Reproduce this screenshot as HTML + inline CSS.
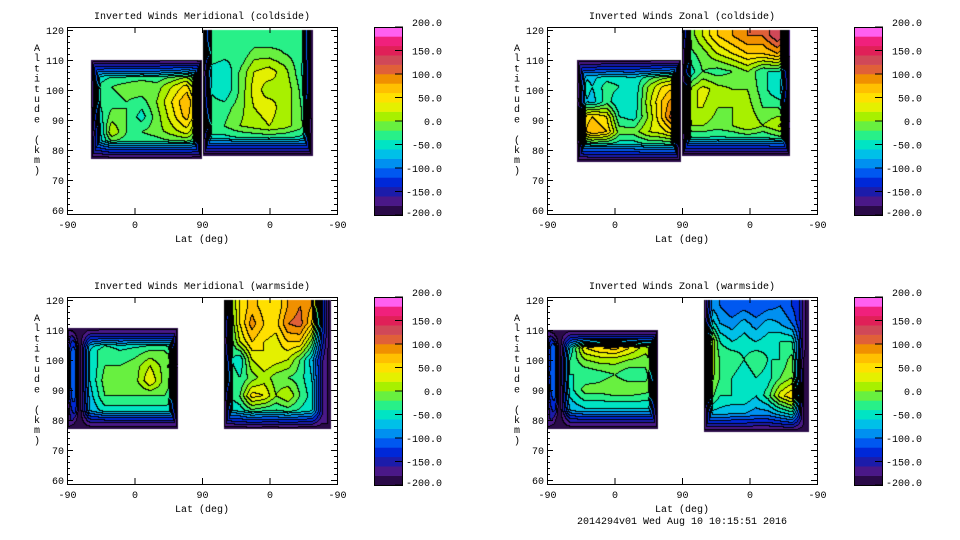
<!DOCTYPE html>
<html><head><meta charset="utf-8">
<style>
html,body{margin:0;padding:0;background:#fff;}
#wrap{position:relative;width:960px;height:540px;overflow:hidden;background:#fff;font-family:"Liberation Mono",monospace;}
canvas{position:absolute;}
svg{position:absolute;left:0;top:0;}
svg text{font-family:"Liberation Mono",monospace;font-size:10px;fill:#000;}
</style></head>
<body>
<div id="wrap">
<canvas id="c1" width="270" height="187" style="left:67px;top:27px"></canvas>
<canvas id="c2" width="270" height="187" style="left:547px;top:27px"></canvas>
<canvas id="c3" width="270" height="187" style="left:67px;top:297px"></canvas>
<canvas id="c4" width="270" height="187" style="left:547px;top:297px"></canvas>
<svg id="ax" width="960" height="540"></svg>
</div>
<script>
// ---- colour scale / ticks ----
const bandColors = ["#2a0a48","#4a1888","#1c1caa","#0028d8","#0058f0","#0090f0","#00c0e8","#00e4c4","#28f088","#68f040","#a8f000","#e4f000","#ffe000","#ffc000","#f09000","#e06038","#d04858","#e02058","#f0207c","#ff60f0"];
const levelTicks = [200,150,100,50,0,-50,-100,-150,-200];
const latTickLabels = ["-90","0","90","0","-90"];
const altTicks = [60,70,80,90,100,110,120];
const titles = ["Inverted Winds Meridional (coldside)","Inverted Winds Zonal (coldside)","Inverted Winds Meridional (warmside)","Inverted Winds Zonal (warmside)"];

// ---- panel 1: meridional coldside ----
const p1LeftLats = [-50,-30,-10,10,30,50,70,87];
const p1LeftAlts = [106,101,96,91,86,81];
const p1LeftVals = [
[-60,-50,-50,-50,-50,-40,-30,-50],
[-40,-20,-10,0,-10,20,50,-20],
[-40,-30,-20,-30,0,40,80,20],
[-60,-10,-20,-50,-10,30,70,10],
[-90,20,-20,-20,-10,10,30,-20],
[-80,-40,-40,-40,-40,-40,-40,-60]];
const p1RightLats = [80,60,40,20,0,-20,-40,-54];
const p1RightAlts = [118,112,106,100,94,88,82];
const p1RightVals = [
[-30,-40,-40,-40,-40,-30,-30,-60],
[-20,-30,-40,-10,-10,-20,-30,-60],
[-50,-60,-20,20,30,10,-30,-70],
[-40,-60,-20,30,10,20,-20,-70],
[-30,-30,-10,20,30,10,-10,-60],
[-20,-20,0,10,20,10,-10,-40],
[-60,-60,-60,-60,-60,-60,-60,-60]];
// ---- panel 2: zonal coldside ----
const p2LeftLats = [-46,-29,-10,7,26,45,63,82];
const p2LeftAlts = [106,101,96,91,86,81];
const p2LeftVals = [
[-70,-70,-60,-60,-60,-50,-40,-30],
[-40,-60,-30,-40,-60,0,40,60],
[-50,-70,-30,-60,-60,10,60,100],
[40,60,40,-40,-50,0,60,130],
[40,80,60,-10,-10,20,30,60],
[-70,-60,-60,-60,-60,-50,-50,-50]];
const p2RightLats = [82,62,42,22,2,-18,-38,-51];
const p2RightAlts = [118,112,106,100,94,88,82];
const p2RightVals = [
[-20,20,60,80,100,100,140,100],
[-30,-10,20,40,60,60,80,40],
[-60,-20,-30,-20,0,-40,-40,-60],
[0,30,10,0,0,-30,-60,-60],
[20,20,0,0,10,-20,-20,-40],
[0,0,-10,0,20,0,20,40],
[-60,-60,-60,-60,-60,-60,-50,-50]];
// ---- panel 3: meridional warmside ----
const p3LeftLats = [-87,-79,-73,-59,-39,-19,1,21,41,55];
const p3LeftAlts = [108,103,98,93,88,83,79];
const p3LeftVals = [
[-90,-150,-200,-90,-80,-80,-80,-80,-80,-80],
[30,-100,-200,-60,-20,-40,-30,-20,-20,-40],
[40,-100,-200,-60,-20,-20,-10,20,-10,30],
[40,-100,-200,-60,-10,-10,-10,40,-10,-20],
[20,-100,-200,-70,-20,-20,-20,-20,-20,-40],
[-60,-120,-200,-80,-50,-50,-50,-50,-50,-50],
[-100,-160,-200,-100,-90,-90,-90,-90,-90,-90]];
const p3RightLats = [55,39,23,7,-9,-25,-41,-57,-70];
const p3RightAlts = [118,112,106,100,94,88,82];
const p3RightVals = [
[-20,40,70,50,40,80,100,80,-100],
[-40,40,90,60,50,100,110,60,-100],
[-50,20,60,40,30,60,60,-10,-120],
[-30,-60,20,40,30,20,-20,-70,-150],
[-20,-40,-10,10,-10,-20,-30,-60,-150],
[-40,-20,50,40,0,20,-20,-50,-150],
[-70,-60,-40,-50,-50,-40,-50,-60,-150]];
// ---- panel 4: zonal warmside ----
const p4LeftLats = [-87,-79,-73,-59,-39,-19,1,21,41,57];
const p4LeftAlts = [108,104,100,95,90,85,80];
const p4LeftVals = [
[-90,-150,-200,-80,-70,-70,-70,-70,-70,-70],
[0,-100,-200,-60,40,60,70,40,10,0],
[10,-100,-200,-40,0,10,10,0,-10,20],
[20,-100,-200,-40,-40,-30,-20,-40,-30,10],
[-10,-100,-200,-50,-10,-10,0,0,-10,-20],
[-60,-120,-200,-70,-50,-50,-50,-50,-50,-50],
[-100,-160,-200,-100,-90,-90,-90,-90,-90,-90]];
const p4RightLats = [55,39,23,7,-9,-25,-41,-57,-73];
const p4RightAlts = [118,112,106,100,94,88,82];
const p4RightVals = [
[-80,-100,-120,-110,-120,-110,-100,-120,-150],
[-30,-80,-90,-70,-90,-70,-80,-100,-150],
[60,-40,-60,-50,-60,-50,-40,-40,-150],
[30,-20,-20,-40,-20,-40,-40,-10,-170],
[20,-20,-40,-60,-40,-50,-20,0,-170],
[0,-40,-40,-40,-60,-30,30,60,-170],
[-70,-70,-80,-80,-90,-90,-70,-50,-170]];
// block extents (data coords): [latA, latB, altMin, altMax]
const p1LeftExt=[-57,90,77,110], p1RightExt=[88,-57,78,120];
const p2LeftExt=[-49,88,76,110], p2RightExt=[89,-54,78,120];
const p3LeftExt=[-89,58,77,110.5], p3RightExt=[60,-81,77,120];
const p4LeftExt=[-90,58,77,110], p4RightExt=[60,-79,76,120];

// ---- axis functions (local to plot box) ----
function xOf(lat, side){ return side==='L' ? (lat+90)*0.75 : 135+(90-lat)*0.75; }
function yOf(alt){ return 3+(120-alt)*3; }
function cbY(v){ return 27+(200-v)*0.47; }

function interp1(arr, p){
  if(p<=arr[0]) return [0,0,0];
  const n=arr.length-1;
  if(p>=arr[n]) return [n,n,0];
  for(let i=0;i<n;i++){ if(p<=arr[i+1]) return [i,i+1,(p-arr[i])/(arr[i+1]-arr[i])]; }
  return [n,n,0];
}
function renderPanel(id, blocks){
  const cv=document.getElementById(id), ctx=cv.getContext('2d');
  const W=270,H=187, band=new Int16Array(W*H).fill(-99);
  const FW=18;
  blocks.forEach(b=>{
    const cx=b.lats.map(l=>xOf(l,b.side)), ry=b.alts.map(a=>yOf(a));
    const xa=xOf(b.ext[0],b.side), xb=xOf(b.ext[1],b.side);
    const x0=Math.min(xa,xb), x1=Math.max(xa,xb), y0=yOf(b.ext[3]), y1=yOf(b.ext[2]);
    const topOpen=b.ext[3]>=120;
    for(let y=Math.max(0,Math.floor(y0));y<Math.min(H,Math.ceil(y1));y++){
      const [r0,r1,ft]=interp1(ry,y+0.5);
      for(let x=Math.max(0,Math.floor(x0));x<Math.min(W,Math.ceil(x1));x++){
        const [c0,c1,fs]=interp1(cx,x+0.5);
        const v00=b.vals[r0][c0],v01=b.vals[r0][c1],v10=b.vals[r1][c0],v11=b.vals[r1][c1];
        let v=(v00*(1-fs)+v01*fs)*(1-ft)+(v10*(1-fs)+v11*fs)*ft;
        const dx=Math.min(x+0.5-x0,x1-x-0.5);
        const dy=Math.min(y1-y-0.5, topOpen?99:y+0.5-y0);
        let d=Math.min(dx*2,dy);
        if(d<FW){ const f=1-Math.max(d,0)/FW; v=v+(-192-v)*f; }
        let k=Math.floor((v+200)/20); if(k>19)k=19; if(k<0)k=0;
        band[y*W+x]=k;
      }
    }
  });
  const img=ctx.createImageData(W,H);
  const rgb=bandColors.map(c=>[parseInt(c.substr(1,2),16),parseInt(c.substr(3,2),16),parseInt(c.substr(5,2),16)]);
  for(let y=0;y<H;y++)for(let x=0;x<W;x++){
    const k=band[y*W+x]; if(k===-99) continue;
    let col=rgb[k];
    const r=x+1<W?band[y*W+x+1]:-99, dn=y+1<H?band[(y+1)*W+x]:-99;
    if((r!==-99&&r!==k)||(dn!==-99&&dn!==k)) col=[0,0,0];
    const o=(y*W+x)*4; img.data[o]=col[0];img.data[o+1]=col[1];img.data[o+2]=col[2];img.data[o+3]=255;
  }
  ctx.putImageData(img,0,0);
}
renderPanel('c1',[{side:'L',lats:p1LeftLats,alts:p1LeftAlts,vals:p1LeftVals,ext:p1LeftExt},{side:'R',lats:p1RightLats,alts:p1RightAlts,vals:p1RightVals,ext:p1RightExt}]);
renderPanel('c2',[{side:'L',lats:p2LeftLats,alts:p2LeftAlts,vals:p2LeftVals,ext:p2LeftExt},{side:'R',lats:p2RightLats,alts:p2RightAlts,vals:p2RightVals,ext:p2RightExt}]);
renderPanel('c3',[{side:'L',lats:p3LeftLats,alts:p3LeftAlts,vals:p3LeftVals,ext:p3LeftExt},{side:'R',lats:p3RightLats,alts:p3RightAlts,vals:p3RightVals,ext:p3RightExt}]);
renderPanel('c4',[{side:'L',lats:p4LeftLats,alts:p4LeftAlts,vals:p4LeftVals,ext:p4LeftExt},{side:'R',lats:p4RightLats,alts:p4RightAlts,vals:p4RightVals,ext:p4RightExt}]);

// ---- axes (SVG) ----
const NS='http://www.w3.org/2000/svg', svg=document.getElementById('ax');
function mk(tag,attrs,parent,txt){const e=document.createElementNS(NS,tag);for(const k in attrs)e.setAttribute(k,attrs[k]);if(txt!==undefined)e.textContent=txt;(parent||svg).appendChild(e);return e;}
const origins=[[67,27],[547,27],[67,297],[547,297]];
origins.forEach((o,pi)=>{
  const [L,T]=o;
  const g=mk('g',{});
  
  
  const fr=mk('rect',{x:L+0.5,y:T+0.5,width:270,height:187,fill:'none',stroke:'#000','stroke-width':1},g);
  
  
  const t=mk('text',{x:L+135,y:T-8,'text-anchor':'middle'},g,titles[pi]);
  
  
  for(let a=60;a<=120;a+=2){
    const y=T+yOf(a)+0.5, len=(a%10===0)?6:3;
    mk('line',{x1:L,x2:L+len,y1:y,y2:y,stroke:'#000'},g);
    mk('line',{x1:L+270-len,x2:L+270,y1:y,y2:y,stroke:'#000'},g);
  }
  altTicks.forEach(a=>{
    const tl=mk('text',{x:L-3,y:T+yOf(a)+4,'text-anchor':'end'},g,String(a));
    
    
  });
  latTickLabels.forEach((s,i)=>{
    const x=L+i*67.5+0.5;
    mk('line',{x1:x,x2:x,y1:T+187,y2:T+181,stroke:'#000'},g);
    mk('line',{x1:x,x2:x,y1:T,y2:T+6,stroke:'#000'},g);
    const tl=mk('text',{x:x,y:T+201,'text-anchor':'middle'},g,s);
    
    
  });
  const xl=mk('text',{x:L+135,y:T+215,'text-anchor':'middle'},g,'Lat (deg)');
  
  
  const yl=mk('g',{},g);
  
  
  'Altitude (km)'.split('').forEach((ch,i)=>{ mk('text',{x:L-30,y:T+24+i*10.2,'text-anchor':'middle'},yl,ch); });
  const cbx=L+307;
  const cb=mk('g',{},g);
  
  
  bandColors.forEach((c,i)=>{
    const lo=-200+i*20, hi=lo+20;
    mk('rect',{x:cbx,y:T+cbY(hi)-27,width:29,height:cbY(lo)-cbY(hi)+0.3,fill:c},cb);
  });
  mk('rect',{x:cbx+0.5,y:T+0.5,width:28,height:188,fill:'none',stroke:'#000'},cb);
  levelTicks.forEach(v=>{
    const y=T+cbY(v)-27;
    mk('line',{x1:cbx+21,x2:cbx+29,y1:y,y2:y,stroke:'#000'},cb);
    const tl=mk('text',{x:cbx+68,y:y+(v===-200?1:v===200?-1:4),'text-anchor':'end'},cb,v.toFixed(1));
    
    
  });
});
const st=mk('text',{x:682,y:524,'text-anchor':'middle'},svg,'2014294v01 Wed Aug 10 10:15:51 2016');


</script>
</body></html>
